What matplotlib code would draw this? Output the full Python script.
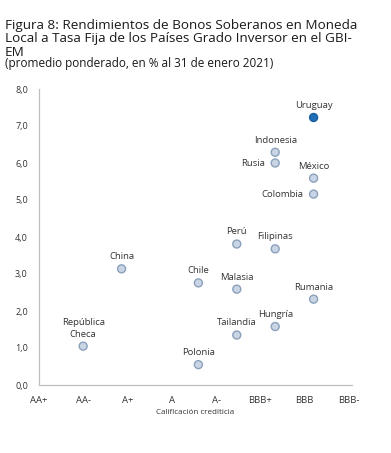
import matplotlib.pyplot as plt
import numpy as np

# rating categories (x axis)
ratings = ["AA+", "AA-", "A+", "A", "A-", "BBB+", "BBB", "BBB-"]

# countries, rating position and yield (%)
paises = ["Uruguay", "Indonesia", "Rusia", "México", "Colombia", "Perú",
          "Filipinas", "China", "Chile", "Malasia", "Rumania", "Hungría",
          "Tailandia", "República\nCheca", "Polonia"]
pos = [7, 6, 6, 7, 7, 5, 6, 2, 4, 5, 7, 6, 5, 1, 4]
rend = [7.23, 6.29, 6.0, 5.59, 5.16, 3.81, 3.68, 3.14, 2.76, 2.59, 2.32,
        1.58, 1.35, 1.05, 0.55]

yticks = [0, 1, 2, 3, 4, 5, 6, 7, 8]

titulo = ["Figura 8: Rendimientos de Bonos Soberanos en Moneda",
          "Local a Tasa Fija de los Países Grado Inversor en el GBI-",
          "EM"]
subtitulo = "(promedio ponderado, en % al 31 de enero 2021)"

plt.rcParams["font.family"] = ["Open Sans", "DejaVu Sans"]

fig = plt.figure(figsize=(3.91, 4.53), dpi=100)
ax = fig.add_axes([39 / 391, 1 - 385 / 453, 313 / 391, 296 / 453])

light_fc = "#c9d5e5"
light_ec = "#8ba1bb"
colors = ["#1f6eb6" if p == "Uruguay" else light_fc for p in paises]
edges = ["#1a5f9e" if p == "Uruguay" else light_ec for p in paises]
ax.scatter(pos, rend, s=33, c=colors, edgecolors=edges, linewidths=1.0,
           zorder=3, clip_on=False)

for p, x, y in zip(paises, pos, rend):
    if p in ("Rusia", "Colombia"):
        ax.annotate(p, (x, y), xytext=(-7, 0), textcoords="offset points",
                    ha="right", va="center", fontsize=6.8, color="#333333")
    else:
        ax.annotate(p, (x, y), xytext=(0, 5.5), textcoords="offset points",
                    ha="center", va="bottom", fontsize=6.8, color="#333333",
                    linespacing=1.4)

ax.set_xlim(0, 8)
ax.set_ylim(0, 8)
ax.set_yticks(yticks)
ax.set_yticklabels([f"{v:.1f}".replace(".", ",") for v in yticks],
                   fontsize=6.5, color="#333333")
# category labels are spaced a bit wider than the markers in the original
ax.set_xticks(np.arange(len(ratings)) * 1.153 - 0.15)
ax.set_xticklabels(ratings, fontsize=6.8, color="#333333")
ax.tick_params(length=0, pad=8)
ax.tick_params(axis="y", pad=8)
ax.set_xlabel("Calificación crediticia", fontsize=5.8, color="#333333",
              labelpad=3)
for s in ("top", "right"):
    ax.spines[s].set_visible(False)
for s in ("left", "bottom"):
    ax.spines[s].set_color("#bfbfbf")
    ax.spines[s].set_linewidth(0.9)

# title lines placed one by one (about 13.5 px apart)
for i, linea in enumerate(titulo):
    fig.text(0.013, 1 - (25 + 13.5 * i) / 453, linea, fontsize=9.7,
             color="#1a1a1a", va="center", ha="left")
fig.text(0.013, 1 - 64 / 453, subtitulo, fontsize=8.5, color="#1a1a1a",
         va="center", ha="left")

fig.savefig("out.png", dpi=100)
